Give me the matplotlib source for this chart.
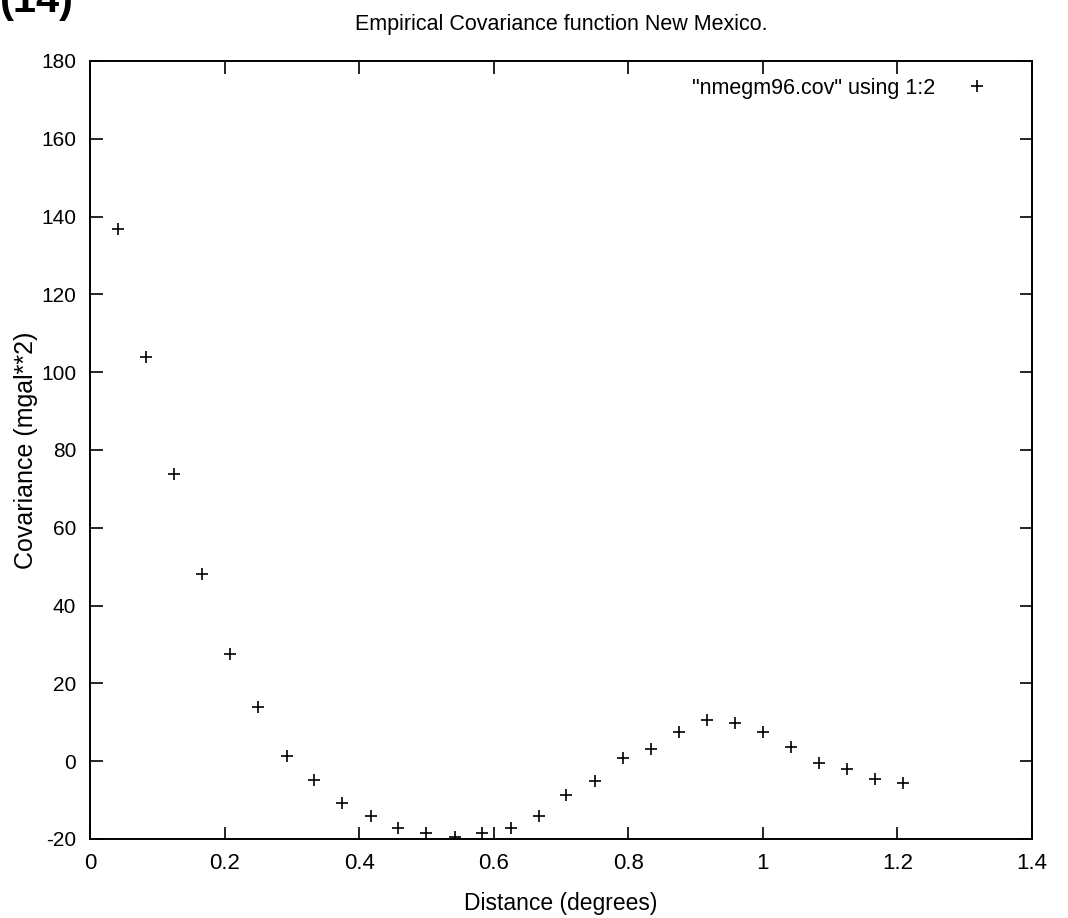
import matplotlib
matplotlib.use("Agg")
import matplotlib.pyplot as plt

# distance (degrees) and empirical covariance (mgal**2)
distance = [0.042, 0.083, 0.125, 0.167, 0.208, 0.250, 0.292, 0.333, 0.375, 0.417,
            0.458, 0.500, 0.542, 0.583, 0.625, 0.667, 0.708, 0.750, 0.792, 0.833,
            0.875, 0.917, 0.958, 1.000, 1.042, 1.083, 1.125, 1.167, 1.208]
covariance = [136.8, 103.8, 73.8, 48.1, 27.5, 13.9, 1.3, -4.8, -10.7, -14.0,
              -17.2, -18.4, -19.4, -18.4, -17.1, -14.0, -8.6, -5.2, 0.7, 3.2,
              7.6, 10.6, 9.7, 7.6, 3.7, -0.5, -1.9, -4.7, -5.7]

xticks = [0, 0.2, 0.4, 0.6, 0.8, 1, 1.2, 1.4]
xticklabels = ["0", "0.2", "0.4", "0.6", "0.8", "1", "1.2", "1.4"]
yticks = list(range(-20, 181, 20))

FONT = ["Liberation Sans", "DejaVu Sans"]

fig = plt.figure(figsize=(10.68, 9.18), dpi=100)
ax = fig.add_axes([0.0843, 0.0861, 0.8820, 0.8475])

ax.plot(distance, covariance, linestyle="none", marker="+", color="black",
        markersize=9, markeredgewidth=1.2, label='"nmegm96.cov" using 1:2')

ax.set_xlim(0, 1.4)
ax.set_ylim(-20, 180)
ax.set_xticks(xticks)
ax.set_xticklabels(xticklabels, family=FONT, fontsize=16)
ax.set_yticks(yticks)
ax.set_yticklabels([str(v) for v in yticks], family=FONT, fontsize=15)
ax.tick_params(direction="in", length=9, width=1.2, top=True, right=True, pad=10)
for s in ax.spines.values():
    s.set_linewidth(1.4)

ax.set_xlabel("Distance (degrees)", family=FONT, fontsize=16.5, labelpad=13)
ax.set_ylabel("Covariance (mgal**2)", family=FONT, fontsize=18)
ax.yaxis.set_label_coords(-0.055, 0.5)
ax.set_title("Empirical Covariance function New Mexico.", family=FONT,
             fontsize=15.5, pad=22)

ax.legend(loc="upper right", bbox_to_anchor=(0.9645, 0.9897), frameon=False,
          markerfirst=False, prop={"family": FONT, "size": 15.5},
          handlelength=1.2, borderaxespad=0, handletextpad=1.35, borderpad=0.4)

# cropped scrap of text at the very top-left edge
fig.text(0.0, 0.999, "(14)", fontsize=30, fontweight="bold", family=FONT,
         va="center", ha="left")

fig.savefig("out.png", dpi=100)
